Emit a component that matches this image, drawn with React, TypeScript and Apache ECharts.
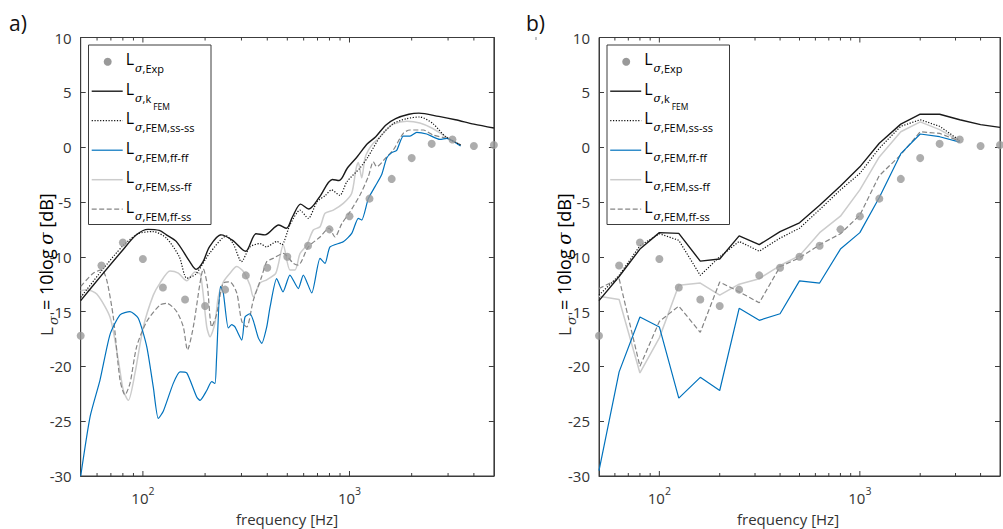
import React, { useEffect, useRef } from 'react';
import * as echarts from 'echarts';

// ---------- data ----------
const bandFreqs = [50, 63, 80, 100, 125, 160, 200, 250, 315, 400, 500, 630, 800, 1000, 1250, 1600, 2000, 2500, 3150, 4000, 5000];
const expValues = [-17.2, -10.8, -8.7, -10.2, -12.8, -13.9, -14.5, -13.0, -11.7, -11.0, -10.0, -9.0, -7.5, -6.3, -4.7, -2.9, -1.0, 0.3, 0.7, 0.1, 0.2];

// panel a (narrow band)
const kFemFreqA = [50, 63, 79, 93, 106, 120, 130, 145, 168, 181, 195, 210, 239, 272, 314, 353, 390, 455, 495, 530, 580, 635, 713, 827, 891, 977, 1092, 1220, 1340, 1497, 1673, 1939, 2167, 2706, 3258, 4000, 5000];
const kFemValA = [-14.0, -11.7, -9.5, -8.0, -7.5, -7.6, -8.0, -8.6, -10.4, -11.15, -10.5, -9.1, -8.0, -8.5, -9.5, -7.9, -8.0, -7.1, -7.4, -6.35, -5.2, -5.65, -4.6, -2.95, -3.05, -1.9, -0.85, 0.3, 0.95, 2.0, 2.6, 3.0, 3.1, 2.8, 2.5, 2.1, 1.75];

const ssssFreqA = [50, 63, 80, 95, 112, 130, 150, 163, 180, 210, 254, 275, 300, 330, 369, 396, 446, 470, 515, 576, 632, 696, 765, 818, 898, 972, 1124, 1228, 1413, 1630, 1895, 2190, 2530, 2920, 3450];
const ssssValA = [-13.7, -11.3, -9.0, -7.9, -7.7, -8.3, -10.0, -11.95, -11.6, -9.7, -8.1, -8.9, -10.45, -9.1, -8.8, -9.1, -8.6, -8.9, -7.1, -5.75, -6.5, -5.0, -4.4, -3.9, -4.4, -3.15, -1.9, -0.9, 1.0, 2.15, 2.6, 2.75, 2.15, 0.95, 0.2];

const ffffFreqA = [50, 55.5, 62, 69.3, 77.5, 86.6, 95, 104.4, 112.3, 118.7, 125.5, 140.3, 151.2, 163, 182.2, 189, 203.7, 215.3, 223.3, 227.1, 237.2, 245, 259, 269, 279, 301, 312, 330, 342, 362, 376, 397.6, 412.5, 444, 476.6, 514.7, 565.2, 597.6, 656.6, 720, 761.5, 805, 933, 1025, 1103, 1146, 1233, 1329, 1432, 1514, 1601, 1692, 1821, 1963, 2115, 2364, 2742, 2954, 3450];
const ffffValA = [-30.0, -24.6, -21.25, -17.1, -15.3, -15.0, -15.6, -18.2, -21.9, -24.75, -24.1, -21.55, -20.5, -20.6, -22.8, -23.1, -22.2, -21.4, -21.55, -19.4, -12.7, -13.3, -16.5, -16.2, -16.4, -17.6, -15.5, -15.2, -15.8, -17.4, -17.9, -16.4, -14.6, -12.0, -13.2, -11.67, -12.9, -11.67, -13.3, -10.15, -10.6, -9.1, -8.63, -7.87, -6.5, -6.65, -4.7, -3.6, -2.5, -1.0, -0.5, -0.3, 1.0, 1.0, 1.35, 1.2, 0.7, 0.8, 0.1];

const ssffFreqA = [50, 53.4, 59.8, 69.3, 76, 80.4, 85, 91.6, 100.5, 112.3, 121, 135.3, 148.4, 163, 178.7, 190, 203.7, 211.3, 223, 231.7, 245, 264, 284.6, 305, 330, 342, 369, 397.6, 440, 478, 514.7, 545, 576, 621, 668, 720, 761.5, 835, 933, 1025, 1075, 1103, 1146, 1188, 1233, 1304, 1405, 1514, 1630, 1895, 2190, 2530, 2920, 3450];
const ssffValA = [-13.1, -13.0, -13.4, -15.5, -19.4, -22.2, -23.1, -20.6, -16.4, -13.5, -12.4, -11.3, -11.5, -12.2, -11.4, -11.6, -16.4, -17.3, -16.1, -13.65, -12.3, -11.5, -10.9, -11.3, -12.6, -13.65, -12.4, -12.1, -11.5, -8.93, -11.2, -11.2, -9.7, -8.93, -7.56, -7.26, -6.04, -5.74, -5.13, -4.2, -2.0, -1.4, -2.8, -1.0, -0.3, 0.35, 0.9, 1.6, 2.1, 2.35, 2.2, 1.7, 0.95, 0.2];

const ffssFreqA = [50, 57.5, 63.2, 66.8, 71.9, 77.5, 81.9, 86.6, 93.3, 104.4, 121, 130.4, 145.7, 156.9, 164.4, 175.4, 189, 196, 205, 215.3, 227, 245, 264, 284.6, 301, 318, 342, 376, 397.6, 427, 478, 535, 565, 632, 720, 796, 851, 917, 1006, 1124, 1233, 1304, 1354, 1514, 1630, 1821, 1963, 2277, 2544, 2954, 3450];
const ffssValA = [-12.7, -11.5, -11.2, -12.1, -15.5, -21.25, -22.6, -21.55, -18.2, -15.9, -14.4, -14.25, -15.0, -16.4, -18.5, -16.4, -12.4, -11.1, -12.6, -16.4, -15.3, -12.4, -12.3, -13.3, -15.9, -16.4, -14.0, -11.8, -10.45, -10.15, -9.7, -10.6, -10.76, -9.1, -8.2, -7.4, -8.2, -7.0, -5.9, -4.37, -2.7, -1.33, -1.79, -0.88, -0.26, 1.26, 1.56, 1.56, 1.1, 0.8, 0.2];

// panel b (third-octave bands)
const femBandFreqs = [50, 63, 80, 100, 125, 160, 200, 250, 315, 400, 500, 630, 800, 1000, 1250, 1600, 2000, 2500, 3150];
const kFemBand = [-14.0, -11.8, -9.3, -7.8, -7.87, -10.4, -10.2, -8.1, -8.9, -7.7, -6.9, -5.3, -3.55, -1.8, 0.35, 2.1, 3.0, 3.0, 2.5, 2.05, 1.8];
const ssssBand = [-13.5, -11.7, -9.0, -7.9, -8.5, -11.7, -10.0, -8.6, -9.5, -8.3, -7.4, -5.7, -3.9, -2.4, -0.1, 1.9, 2.5, 1.9, 0.6];
const ffffBand = [-29.5, -20.5, -15.5, -16.4, -22.9, -21.0, -22.2, -14.7, -15.8, -15.2, -12.2, -12.4, -9.3, -7.8, -4.6, -0.6, 1.2, 0.95, 0.45];
const ssffBand = [-13.6, -13.9, -20.6, -17.4, -12.6, -12.4, -13.5, -12.5, -12.0, -10.8, -9.9, -7.8, -6.3, -3.9, -0.9, 1.4, 2.3, 1.6, 0.55];
const ffssBand = [-12.9, -12.0, -20.0, -15.9, -14.5, -16.9, -12.3, -13.2, -14.2, -10.9, -10.1, -8.9, -7.9, -6.2, -2.6, -0.7, 1.4, 1.25, 0.55];

// ticks / labels
const majorXTicks = [100, 1000];
const minorXTicks = [60, 70, 80, 90, 200, 300, 400, 500, 600, 700, 800, 900, 2000, 3000, 4000];
const legendSubs = ['Exp', 'k', 'FEM,ss-ss', 'FEM,ff-ff', 'FEM,ss-ff', 'FEM,ff-ss'];
const panelLabels = ['a)', 'b)'];
const xAxisTitle = 'frequency [Hz]';

// ---------- styles ----------
const AX = '#3c3c3c';
const TXT = '#333333';
const FONT = '"Open Sans", "Noto Sans", sans-serif';
const SERIF = '"DejaVu Serif", "Liberation Serif", serif';
const EXP_C = '#999999';
const styles = [
  { color: '#1a1a1a', width: 1.4, dash: null as null | number[] },
  { color: '#111111', width: 1.2, dash: [1.2, 1.6] },
  { color: '#0072BD', width: 1.2, dash: null },
  { color: '#cccccc', width: 1.5, dash: null },
  { color: '#858585', width: 1.2, dash: [5, 2.5] },
];

const G_TOP = 37.5;
const G_H = 438.5;
const G_LEFT = [80.7, 599];
const G_W = 413.2;

const pairs = (fs: number[], vs: number[]) => fs.map((f, i) => [f, vs[i]]);

export default function App() {
  const ref = useRef<HTMLDivElement>(null);
  useEffect(() => {
    const chart = echarts.init(ref.current!, undefined, { renderer: 'svg' });

    const grids = G_LEFT.map((l) => ({
      left: l, top: G_TOP, width: G_W, height: G_H,
      show: true, borderColor: AX, borderWidth: 1, backgroundColor: 'transparent',
    }));

    const xAxes = [0, 1].map((gi) => ({
      type: 'log', logBase: 10, gridIndex: gi, min: 50, max: 5000,
      axisLine: { show: true, onZero: false, lineStyle: { color: AX, width: 1 } },
      axisTick: { show: false },
      splitLine: { show: false },
      axisLabel: {
        margin: 9,
        formatter: (v: number) => {
          const e = Math.log10(v);
          if (Math.abs(e - Math.round(e)) > 1e-6) return '';
          return `{b|10}{e|${Math.round(e)}}`;
        },
        rich: {
          b: { fontFamily: FONT, fontSize: 15, color: TXT, verticalAlign: 'top', padding: [5, 0, 0, 0] },
          e: { fontFamily: FONT, fontSize: 10.5, color: TXT, verticalAlign: 'top' },
        },
      },
    }));

    const yAxes: any[] = [];
    [0, 1].forEach((gi) => {
      ['left', 'right'].forEach((pos) => {
        yAxes.push({
          type: 'value', gridIndex: gi, position: pos, min: -30, max: 10, interval: 5,
          axisLine: { show: true, onZero: false, lineStyle: { color: AX, width: 1 } },
          axisTick: { show: true, inside: true, length: 5, lineStyle: { color: AX } },
          splitLine: { show: false },
          axisLabel: { show: pos === 'left', margin: 9, fontFamily: FONT, fontSize: 15, color: TXT },
        });
      });
    });

    const series: any[] = [];
    const tickData = [...majorXTicks.map((f) => [f, 1]), ...minorXTicks.map((f) => [f, 0])];
    [0, 1].forEach((gi) => {
      series.push({
        type: 'custom', xAxisIndex: gi, yAxisIndex: gi * 2, silent: true, clip: false,
        data: tickData, encode: { x: 0, y: 1 }, z: 5,
        renderItem: (_p: any, api: any) => {
          const f = api.value(0);
          const len = api.value(1) === 1 ? 5 : 3;
          const b = api.coord([f, -30]);
          const t = api.coord([f, 10]);
          return {
            type: 'group',
            children: [
              { type: 'line', shape: { x1: b[0], y1: b[1], x2: b[0], y2: b[1] - len }, style: { stroke: AX, lineWidth: 1 } },
              { type: 'line', shape: { x1: t[0], y1: t[1], x2: t[0], y2: t[1] + len }, style: { stroke: AX, lineWidth: 1 } },
            ],
          };
        },
      });
    });

    const lineSeries = (gi: number, data: number[][], si: number, smooth: number) => ({
      type: 'line', xAxisIndex: gi, yAxisIndex: gi * 2, data, showSymbol: false, symbol: 'none',
      smooth, z: 3,
      lineStyle: { color: styles[si].color, width: styles[si].width, type: styles[si].dash || 'solid' },
    });

    // panel a
    series.push(lineSeries(0, pairs(ssffFreqA, ssffValA), 3, 0.25));
    series.push(lineSeries(0, pairs(ffssFreqA, ffssValA), 4, 0.25));
    series.push(lineSeries(0, pairs(ffffFreqA, ffffValA), 2, 0.2));
    series.push(lineSeries(0, pairs(ssssFreqA, ssssValA), 1, 0.25));
    series.push(lineSeries(0, pairs(kFemFreqA, kFemValA), 0, 0.3));
    // panel b
    series.push(lineSeries(1, pairs(femBandFreqs, ssffBand), 3, 0));
    series.push(lineSeries(1, pairs(femBandFreqs, ffssBand), 4, 0));
    series.push(lineSeries(1, pairs(femBandFreqs, ffffBand), 2, 0));
    series.push(lineSeries(1, pairs(femBandFreqs, ssssBand), 1, 0));
    series.push(lineSeries(1, pairs(bandFreqs, kFemBand), 0, 0));
    [0, 1].forEach((gi) => {
      series.push({
        type: 'scatter', xAxisIndex: gi, yAxisIndex: gi * 2, data: pairs(bandFreqs, expValues),
        symbol: 'circle', symbolSize: 8, itemStyle: { color: EXP_C }, z: 4, clip: false,
      });
    });

    // graphics: legends, panel labels, axis titles
    const graphic: any[] = [];
    const subRich = {
      L: { fontFamily: FONT, fontSize: 16, color: '#222', verticalAlign: 'top' },
      g: { fontFamily: SERIF, fontStyle: 'italic', fontSize: 11, color: '#222', verticalAlign: 'top', padding: [12, 0, 0, 1] },
      s: { fontFamily: FONT, fontSize: 11, color: '#222', verticalAlign: 'top', padding: [12, 0, 0, 0] },
      ss: { fontFamily: FONT, fontSize: 8.5, color: '#222', verticalAlign: 'top', padding: [21, 0, 0, 2] },
    };
    [0, 518.5].forEach((ox, pi) => {
      graphic.push({
        type: 'rect', z: 100, shape: { x: 88.5 + ox, y: 45, width: 122.5, height: 179.5 },
        style: { fill: '#fff', stroke: AX, lineWidth: 1 },
      });
      legendSubs.forEach((sub, i) => {
        const y = 61.7 + 29.5 * i;
        if (i === 0) {
          graphic.push({ type: 'circle', z: 101, shape: { cx: 107.7 + ox, cy: y, r: 4 }, style: { fill: EXP_C } });
        } else {
          const st = styles[i - 1];
          graphic.push({
            type: 'line', z: 101, shape: { x1: 91.7 + ox, y1: y, x2: 122.7 + ox, y2: y },
            style: { stroke: st.color, lineWidth: st.width, lineDash: st.dash || undefined },
          });
        }
        const txt = i === 1 ? '{L|L}{g|σ}{s|,k}{ss|FEM}' : `{L|L}{g|σ}{s|,${sub}}`;
        graphic.push({
          type: 'text', z: 101, x: 125.7 + ox, y: y - 10.5,
          style: { text: txt, rich: subRich, align: 'left', verticalAlign: 'top' },
        });
      });
      graphic.push({
        type: 'text', z: 101, x: [9, 526][pi], y: 23,
        style: { text: panelLabels[pi], fontFamily: FONT, fontSize: 21, fill: '#111', align: 'left', verticalAlign: 'middle' },
      });
      graphic.push({
        type: 'text', z: 101, x: [287, 788][pi], y: 519,
        style: { text: xAxisTitle, fontFamily: FONT, fontSize: 15, fill: TXT, align: 'center', verticalAlign: 'middle' },
      });
      // y-axis title: L, subscript sigma, rest
      const yx = [46, 564][pi];
      graphic.push({
        type: 'text', z: 101, x: yx, y: 336, rotation: Math.PI / 2,
        style: { text: 'L', fontFamily: FONT, fontSize: 17, fill: TXT, align: 'left', verticalAlign: 'middle' },
      });
      graphic.push({
        type: 'text', z: 101, x: yx + 7, y: 325, rotation: Math.PI / 2,
        style: { text: 'σ', fontFamily: SERIF, fontStyle: 'italic', fontSize: 13, fill: TXT, align: 'left', verticalAlign: 'middle' },
      });
      graphic.push({
        type: 'text', z: 101, x: yx, y: 310, rotation: Math.PI / 2,
        style: {
          text: '{a|= 10log }{h|σ}{a| [dB]}',
          align: 'left', verticalAlign: 'middle',
          rich: {
            a: { fontFamily: FONT, fontSize: 18, color: TXT },
            h: { fontFamily: SERIF, fontStyle: 'italic', fontSize: 18, color: TXT },
          },
        },
      });
    });
    graphic.push({ type: 'line', z: 101, shape: { x1: 536, y1: 37, x2: 536, y2: 40 }, style: { stroke: '#888', lineWidth: 1 } });

    chart.setOption({
      animation: false,
      backgroundColor: '#ffffff',
      grid: grids,
      xAxis: xAxes,
      yAxis: yAxes,
      series,
      graphic,
    });
    return () => chart.dispose();
  }, []);
  return <div ref={ref} style={{ position: 'absolute', left: 0, top: 0, width: 1003, height: 529 }} />;
}
